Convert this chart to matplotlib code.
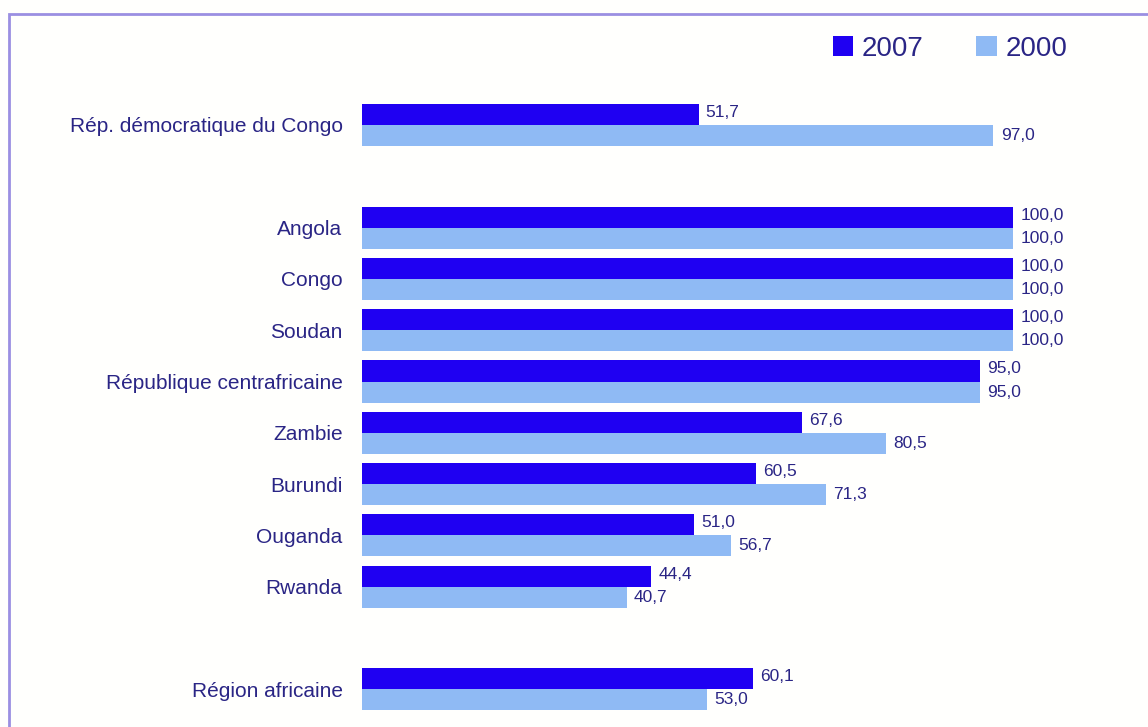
import matplotlib.pyplot as plt
from matplotlib.patches import Rectangle

# données : taux par pays, 2007 et 2000
pays = ['Rép. démocratique du Congo', 'Angola', 'Congo', 'Soudan',
        'République centrafricaine', 'Zambie', 'Burundi', 'Ouganda',
        'Rwanda', 'Région africaine']
val_2007 = [51.7, 100.0, 100.0, 100.0, 95.0, 67.6, 60.5, 51.0, 44.4, 60.1]
val_2000 = [97.0, 100.0, 100.0, 100.0, 95.0, 80.5, 71.3, 56.7, 40.7, 53.0]
annees = ['2007', '2000']

# position des lignes (avec un espace avant et après le bloc des pays)
pos = [0, 2, 3, 4, 5, 6, 7, 8, 9, 11]

c_fonce = '#1f00f2'
c_clair = '#8fbaf4'
c_texte = '#2a2585'

plt.rcParams['font.family'] = ['Liberation Sans', 'DejaVu Sans']

W, H = 1148, 727
fig = plt.figure(figsize=(W / 100, H / 100), dpi=100)
fig.patch.set_facecolor('#fffffd')

# cadre
fig.patches.append(Rectangle((9 / W, -0.1), 1.2, (H - 14) / H + 0.1,
                             transform=fig.transFigure, fill=False,
                             edgecolor='#9b8fe2', linewidth=2))

# axes : x=0 -> 362 px, x=100 -> 1013 px
ax = fig.add_axes([362 / W, (H - 715) / H, 651 / W, 667 / H])
ax.set_facecolor('none')
h = 0.41
yb1 = [p - h / 2 for p in pos]
yb2 = [p + h / 2 for p in pos]
b1 = ax.barh(yb1, val_2007, height=h, color=c_fonce, label=annees[0])
b2 = ax.barh(yb2, val_2000, height=h, color=c_clair, label=annees[1])

for y, v in zip(yb1, val_2007):
    ax.text(v + 1.1, y - 0.04, f'{v:.1f}'.replace('.', ','), va='center', ha='left',
            fontsize=12.5, color=c_texte, clip_on=False)
for y, v in zip(yb2, val_2000):
    ax.text(v + 1.1, y, f'{v:.1f}'.replace('.', ','), va='center', ha='left',
            fontsize=12.5, color=c_texte, clip_on=False)

ax.set_xlim(0, 100)
ax.set_ylim(11.5, -1.5)
ax.set_yticks(pos)
ax.set_yticklabels(pays, fontsize=15, color=c_texte)
ax.tick_params(axis='y', length=0, pad=14)
ax.set_xticks([])
for s in ax.spines.values():
    s.set_visible(False)

fig.legend(handles=[b1, b2], loc='center', bbox_to_anchor=(950 / W, 1 - 49 / H),
           ncol=2, frameon=False, fontsize=20, handlelength=0.75,
           handleheight=0.75, handletextpad=0.3, columnspacing=1.9,
           labelcolor=c_texte)

fig.savefig('out.png', dpi=100, facecolor=fig.get_facecolor())
